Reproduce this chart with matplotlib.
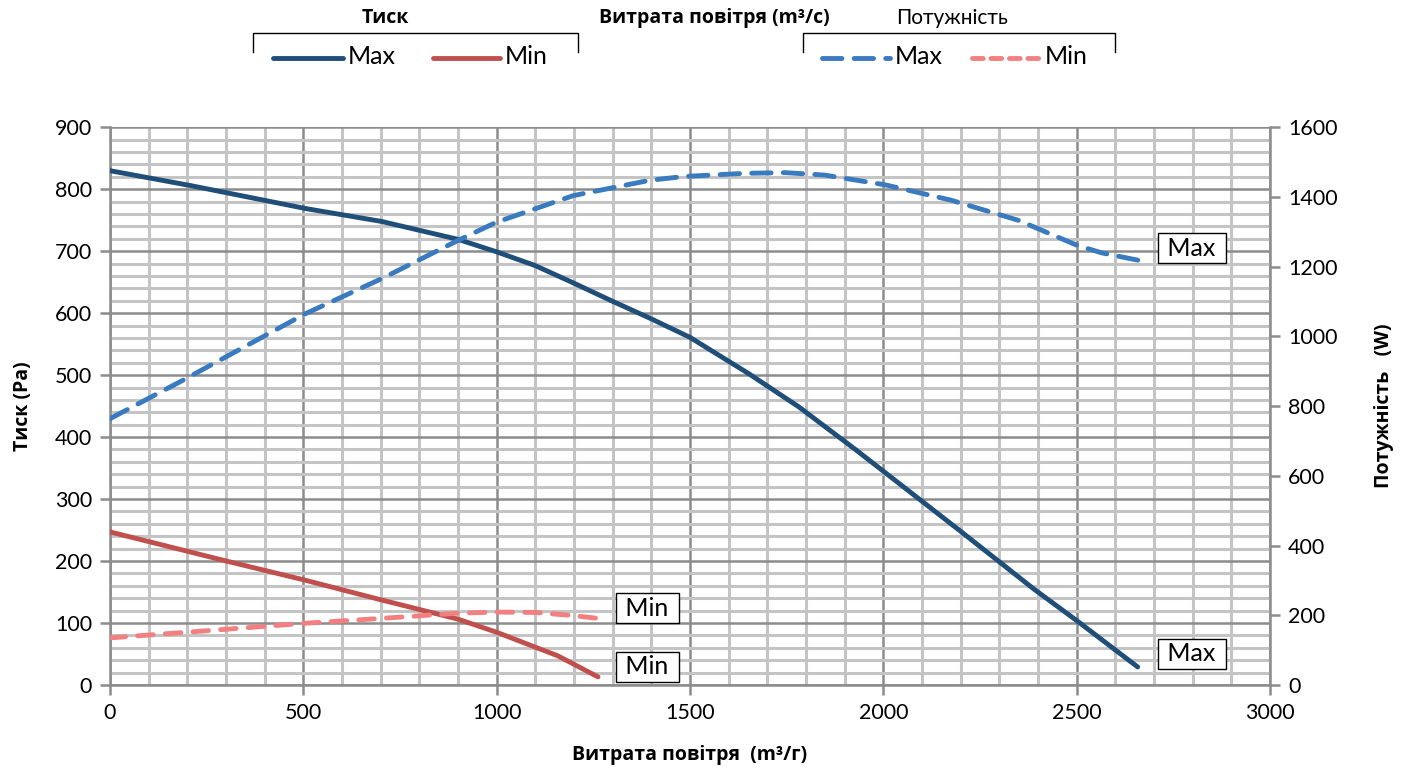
import matplotlib.pyplot as plt
from matplotlib.lines import Line2D
from matplotlib.ticker import MultipleLocator

plt.rcParams['font.family'] = ['Lato', 'DejaVu Sans']

# flow, m3/h  ->  pressure, Pa (left axis)
flow_pmax = [0, 208, 505, 703, 901, 1000, 1099, 1198, 1297, 1396, 1500, 1653, 1781,
             1930, 1998, 2198, 2389, 2500, 2658]
press_max = [830, 806, 769, 748, 719, 699, 677, 649, 620, 592, 561, 502, 449,
             379, 346, 249, 155, 104, 29]

flow_pmin = [0, 307, 505, 703, 901, 1000, 1158, 1262]
press_min = [247, 199, 169, 137, 106, 85, 47, 13]

# flow, m3/h  ->  power, W (right axis)
flow_wmax = [0, 188, 505, 703, 901, 1000, 1198, 1396, 1485, 1643, 1746, 1848, 2005,
             2175, 2350, 2500, 2564, 2662]
power_max = [764, 874, 1065, 1166, 1276, 1328, 1404, 1448, 1459, 1468, 1470, 1463, 1435,
             1391, 1333, 1262, 1240, 1218]

flow_wmin = [0, 208, 505, 703, 901, 1000, 1099, 1198, 1262]
power_min = [135, 152, 177, 191, 206, 209, 208, 199, 191]

c_pmax = '#1F4E79'
c_pmin = '#C0504D'
c_wmax = '#3A7BC0'
c_wmin = '#F28080'

fig = plt.figure(figsize=(14.11, 7.67), dpi=100)
ax = fig.add_axes([0.078, 0.107, 0.822, 0.727])
ax2 = ax.twinx()

ax.set_xlim(0, 3000)
ax.set_ylim(0, 900)
ax2.set_ylim(0, 1600)

ax.xaxis.set_major_locator(MultipleLocator(500))
ax.xaxis.set_minor_locator(MultipleLocator(100))
ax.yaxis.set_major_locator(MultipleLocator(100))
ax.yaxis.set_minor_locator(MultipleLocator(20))
ax2.yaxis.set_major_locator(MultipleLocator(200))

ax.grid(which='minor', color='#C4C4C4', lw=2.2)
ax.grid(which='major', color='#8C8C8C', lw=1.8)
ax.set_axisbelow(True)

for a in (ax, ax2):
    for s in a.spines.values():
        s.set_visible(False)
for side in ('left', 'bottom'):
    ax.spines[side].set_visible(True)
    ax.spines[side].set_color('#8C8C8C')
    ax.spines[side].set_linewidth(1.8)
ax2.spines['right'].set_visible(True)
ax2.spines['right'].set_color('#8C8C8C')
ax2.spines['right'].set_linewidth(1.8)

ax.tick_params(which='major', length=7, width=1.8, color='#8C8C8C', labelsize=15.5, pad=6)
ax.tick_params(which='minor', length=0)
ax2.tick_params(length=7, width=1.8, color='#8C8C8C', labelsize=15.5, pad=6)

ax.plot(flow_pmax, press_max, color=c_pmax, lw=3.5, solid_capstyle='round', zorder=3)
ax.plot(flow_pmin, press_min, color=c_pmin, lw=3.5, solid_capstyle='round', zorder=3)
ax2.plot(flow_wmax, power_max, color=c_wmax, lw=3.5, dashes=(4, 2.5), dash_capstyle='round', zorder=3)
ax2.plot(flow_wmin, power_min, color=c_wmin, lw=3.5, dashes=(3.2, 2.5), dash_capstyle='round', zorder=3)

box = dict(boxstyle='square,pad=0.15', fc='white', ec='black', lw=1)
ax.text(2798, 705, ' Max ', fontsize=18, ha='center', va='center', bbox=box, zorder=5)
ax.text(2798, 50, ' Max ', fontsize=18, ha='center', va='center', bbox=box, zorder=5)
ax.text(1389, 124, ' Min ', fontsize=18, ha='center', va='center', bbox=box, zorder=5)
ax.text(1389, 29, ' Min ', fontsize=18, ha='center', va='center', bbox=box, zorder=5)

bold_family = ['Open Sans', 'DejaVu Sans']
ax.set_xlabel('Витрата повітря  (m³/г)', fontsize=14, fontweight='bold', family=bold_family,
              labelpad=16)
ax.set_ylabel('Тиск (Pa)', fontsize=14, fontweight='bold', family=bold_family, labelpad=16)
ax2.set_ylabel('Потужність   (W)', fontsize=14, fontweight='bold', family=bold_family,
               labelpad=26)

# top legend
W, H = 1411, 767
def fx(px):
    return px / W
def fy(py):
    return 1 - py / H

for x0, x1 in ((253, 578), (803, 1115)):
    fig.add_artist(Line2D([fx(x0), fx(x0), fx(x1), fx(x1)], [fy(52), fy(33), fy(33), fy(52)],
                          color='black', lw=1))

fig.text(fx(385), fy(18), 'Тиск', fontsize=14, fontweight='bold', family=bold_family,
         ha='center', va='center')
fig.text(fx(714), fy(18), 'Витрата повітря (m³/с)', fontsize=14, fontweight='bold',
         family=bold_family, ha='center', va='center')
fig.text(fx(952), fy(18), 'Потужність', fontsize=15, ha='center', va='center')

legend_items = [
    (273, 343, c_pmax, None, 'Max'),
    (433, 500, c_pmin, None, 'Min'),
    (822, 890, c_wmax, (4, 2.5), 'Max'),
    (972, 1040, c_wmin, (2.2, 1.6), 'Min'),
]
for x0, x1, col, dash, lab in legend_items:
    ln = Line2D([fx(x0), fx(x1)], [fy(58), fy(58)], color=col, lw=3.5,
                solid_capstyle='round', dash_capstyle='round')
    if dash:
        ln.set_dashes(dash)
    fig.add_artist(ln)
    fig.text(fx(x1 + 5), fy(57), lab, fontsize=18, ha='left', va='center')

fig.savefig('out.png', dpi=100)
